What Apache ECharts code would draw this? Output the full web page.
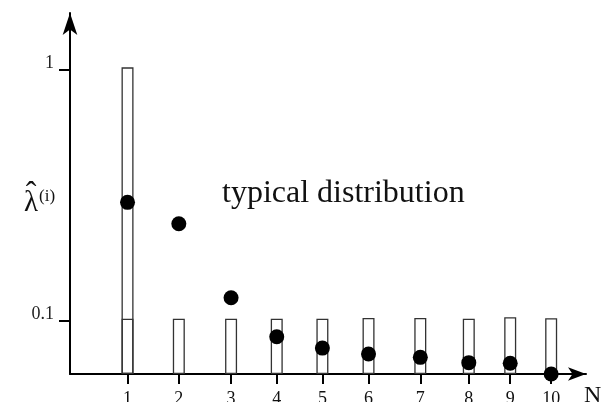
<!DOCTYPE html>
<html><head><meta charset="utf-8">
<script src="https://cdn.jsdelivr.net/npm/echarts@6/dist/echarts.min.js"></script>
<style>html,body{margin:0;padding:0;background:#fff}#c{width:603px;height:402px}</style>
</head><body><div id="c"></div>
<script>
// N (category) labels and the horizontal position at which each N is drawn
const nLabels = ['1','2','3','4','5','6','7','8','9','10'];
const nPos = [1, 2.09, 3.20, 4.17, 5.14, 6.12, 7.22, 8.25, 9.13, 10];
// tall outline bar at N = 1
const tallBar = [1.018, null, null, null, null, null, null, null, null, null];
// short outline bars (~0.1)
const baseBars = [0.1015, 0.1015, 0.1015, 0.1015, 0.1015, 0.1022, 0.1022, 0.1015, 0.1029, 0.1019];
// filled dots: typical distribution of lambda-hat
const lambdaHat = [0.295, 0.2426, 0.123, 0.086, 0.0775, 0.0734, 0.0712, 0.0678, 0.0674, 0.0611];
// y tick labels
const yTickValues = [0.1, 1];
const yTickLabels = ['0.1', '1'];

const yMin = 0.0611, yMax = 1.676;
const xMin = -0.222, xMax = 10.74;
const toAxis = v => (v == null ? null : Math.log10(v / yMin));

const serif = "'Liberation Serif', 'DejaVu Serif', serif";
const chart = echarts.init(document.getElementById('c'), null, {renderer: 'canvas'});

const axisLineStyle = {color: '#000', width: 2};

chart.setOption({
  animation: false,
  backgroundColor: '#fff',
  grid: {left: 70, right: 17, top: 13, bottom: 28, containLabel: false, outerBoundsMode: 'none'},
  xAxis: {
    type: 'value', min: xMin, max: xMax,
    axisLine: {show: true, onZero: false, lineStyle: axisLineStyle,
      symbol: ['none', 'arrow'], symbolSize: [10, 18]},
    axisTick: {show: true, inside: false, length: 10, lineStyle: {color: '#000', width: 2},
      customValues: nPos},
    axisLabel: {show: true, margin: 16, fontFamily: serif, fontSize: 18, color: '#111',
      customValues: nPos,
      formatter: v => { const i = nPos.findIndex(p => Math.abs(p - v) < 1e-6); return i >= 0 ? nLabels[i] : ''; }},
    splitLine: {show: false},
    name: 'N', nameLocation: 'end', nameGap: -2,
    nameTextStyle: {fontFamily: serif, fontSize: 24, color: '#111', align: 'left', verticalAlign: 'top', padding: [10, 0, 0, 0]}
  },
  yAxis: {
    type: 'value', min: 0, max: toAxis(yMax),
    axisLine: {show: true, onZero: false, lineStyle: axisLineStyle,
      symbol: ['none', 'arrow'], symbolSize: [11, 22]},
    axisTick: {show: true, inside: false, length: 11, lineStyle: {color: '#000', width: 2},
      customValues: yTickValues.map(toAxis)},
    axisLabel: {show: true, margin: 16, fontFamily: serif, fontSize: 18, color: '#222',
      verticalAlign: 'bottom', lineHeight: 12,
      customValues: yTickValues.map(toAxis),
      formatter: v => { const i = yTickValues.findIndex(t => Math.abs(toAxis(t) - v) < 1e-6); return i >= 0 ? yTickLabels[i] : ''; }},
    splitLine: {show: false}
  },
  series: [
    {
      type: 'bar', barWidth: 12, barGap: '-100%', z: 2,
      itemStyle: {color: '#fff', borderColor: '#333', borderWidth: 1.3},
      data: nPos.map((x, i) => [x, toAxis(tallBar[i])])
    },
    {
      type: 'bar', barWidth: 12, barGap: '-100%', z: 3,
      itemStyle: {color: 'rgba(255,255,255,0)', borderColor: '#333', borderWidth: 1.3},
      data: nPos.map((x, i) => [x, toAxis(baseBars[i])])
    },
    {
      type: 'scatter', symbol: 'circle', symbolSize: 15, clip: false, z: 5,
      itemStyle: {color: '#000', opacity: 1},
      data: nPos.map((x, i) => [x, toAxis(lambdaHat[i])])
    }
  ],
  graphic: [
    {type: 'text', left: 222, top: 178, z: 10,
      style: {text: 'typical distribution', font: "32px " + serif, fill: '#111'}},
    {type: 'text', x: 31, y: 203, z: 10,
      style: {text: 'λ', font: "29px " + serif, fill: '#111', align: 'center', verticalAlign: 'middle'}},
    {type: 'text', x: 31, y: 195, z: 10,
      style: {text: 'ˆ', font: "32px " + serif, fill: '#111', align: 'center', verticalAlign: 'middle'}},
    {type: 'text', x: 39, y: 197, z: 10,
      style: {text: '(i)', font: "17px " + serif, fill: '#111', align: 'left', verticalAlign: 'middle'}}
  ]
});
</script>
</body></html>
